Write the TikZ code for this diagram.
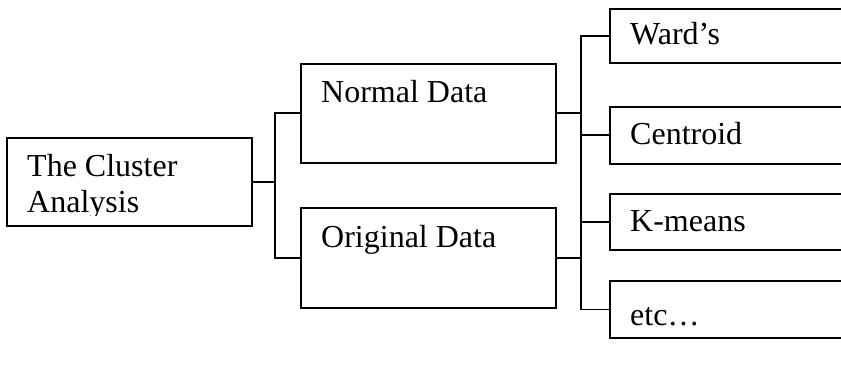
\documentclass[tikz,border=0pt]{standalone}
\usepackage{fontspec}
\setmainfont{Liberation Serif}
\begin{document}
\begin{tikzpicture}[x=1pt,y=-1pt,
  box/.style={draw=black, line width=1.8pt, rectangle, inner sep=0pt, anchor=north west},
  lbl/.style={anchor=base west, inner sep=0pt, font=\fontsize{32}{36}\selectfont},
  wire/.style={draw=black, line width=1.8pt}]
\useasboundingbox (0,0) rectangle (841,366);
\clip (0,0) rectangle (841,366);
% boxes
\node[box, minimum width=245pt, minimum height=88pt] (cl) at (6,137) {};
\node[box, minimum width=255pt, minimum height=99pt] (nd) at (300,63) {};
\node[box, minimum width=255pt, minimum height=100pt] (od) at (300,207) {};
\node[box, minimum width=245pt, minimum height=54pt] (wa) at (609,8) {};
\node[box, minimum width=245pt, minimum height=57pt] (ce) at (609,106) {};
\node[box, minimum width=245pt, minimum height=56pt] (km) at (609,193) {};
\node[box, minimum width=245pt, minimum height=57pt] (et) at (609,280) {};
% texts
\begin{scope}
\clip (6,137) rectangle (251,216);
\node[lbl] (t1) at (27,177) {The Cluster};
\node[lbl] (t2) at (27,213) {Analysis};
\end{scope}
\node[lbl] (tn) at (321,103) {Normal Data};
\node[lbl] (to) at (321,248) {Original Data};
\node[lbl] (tw) at (630,45) {Ward’s};
\node[lbl] (tc) at (630,145) {Centroid};
\node[lbl] (tk) at (630,232) {K-means};
\node[lbl] (te) at (630,325) {etc…};
% connectors
\coordinate (j1) at (275,181);
\coordinate (bus) at (581,181);
\draw[wire] (cl.east) -- (cl.east -| j1);
\draw[wire] (nd.west) -| (j1) |- (od.west);
\draw[wire] (nd.east) -- (nd.east -| bus);
\draw[wire] (od.east) -- (od.east -| bus);
\draw[wire] (wa.west) -| (bus) |- (et.west);
\draw[wire] (ce.west) -- (ce.west -| bus);
\draw[wire] (km.west) -- (km.west -| bus);
\end{tikzpicture}
\end{document}
